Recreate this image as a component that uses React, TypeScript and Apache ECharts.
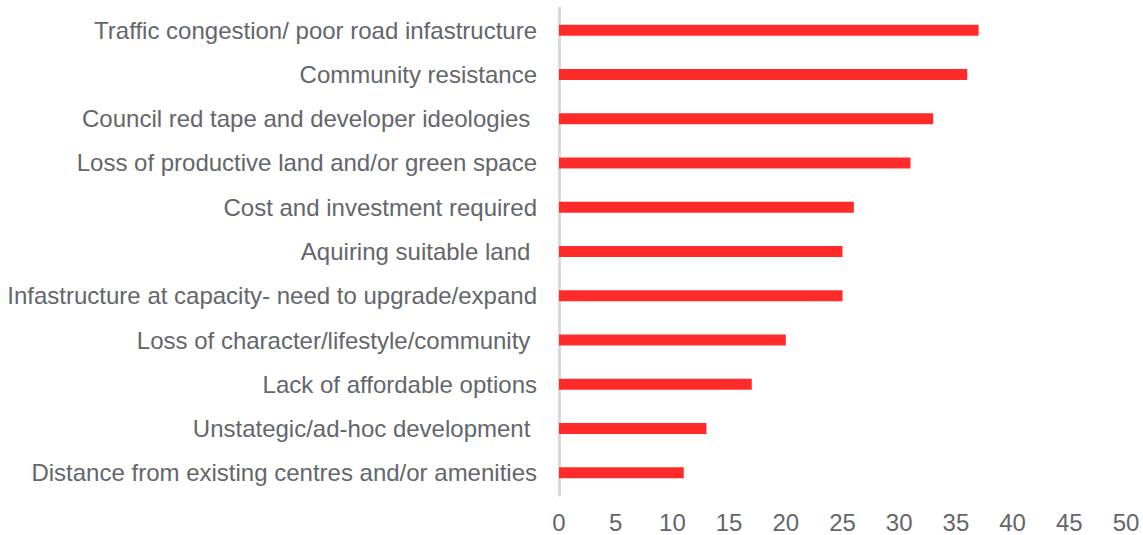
import React, { useEffect, useRef } from "react";
import * as echarts from "echarts";

const categories = [
  "Traffic congestion/ poor road infastructure",
  "Community resistance",
  "Council red tape and developer ideologies ",
  "Loss of productive land and/or green space",
  "Cost and investment required",
  "Aquiring suitable land ",
  "Infastructure at capacity- need to upgrade/expand",
  "Loss of character/lifestyle/community ",
  "Lack of affordable options",
  "Unstategic/ad-hoc development ",
  "Distance from existing centres and/or amenities",
];
const values = [37, 36, 33, 31, 26, 25, 25, 20, 17, 13, 11];

export default function App() {
  const ref = useRef<HTMLDivElement>(null);
  useEffect(() => {
    if (!ref.current) return;
    const chart = echarts.init(ref.current, null, { renderer: "svg" });
    chart.setOption({
      animation: false,
      grid: { left: 559, right: 17, top: 8, bottom: 40 },
      xAxis: {
        type: "value",
        min: 0,
        max: 50,
        interval: 5,
        splitLine: { show: false },
        axisLine: { show: false },
        axisTick: { show: false },
        axisLabel: {
          color: "#63666A",
          fontSize: 24,
          fontFamily: "Liberation Sans, Arial, sans-serif",
          margin: 15,
        },
      },
      yAxis: {
        type: "category",
        data: categories,
        inverse: true,
        axisLine: { show: true, lineStyle: { color: "#D9D9D9", width: 3 } },
        axisTick: { show: false },
        axisLabel: {
          color: "#63666A",
          fontSize: 24,
          fontFamily: "Liberation Sans, Arial, sans-serif",
          margin: 22,
        },
      },
      series: [
        {
          type: "bar",
          data: values,
          barWidth: 11,
          itemStyle: { color: "#FF2A2A" },
        },
      ],
    });
    return () => chart.dispose();
  }, []);
  return (
    <div style={{ position: "absolute", left: 0, top: 0, width: 1143, height: 535 }}>
      <div ref={ref} style={{ width: 1143, height: 535 }} />
    </div>
  );
}
